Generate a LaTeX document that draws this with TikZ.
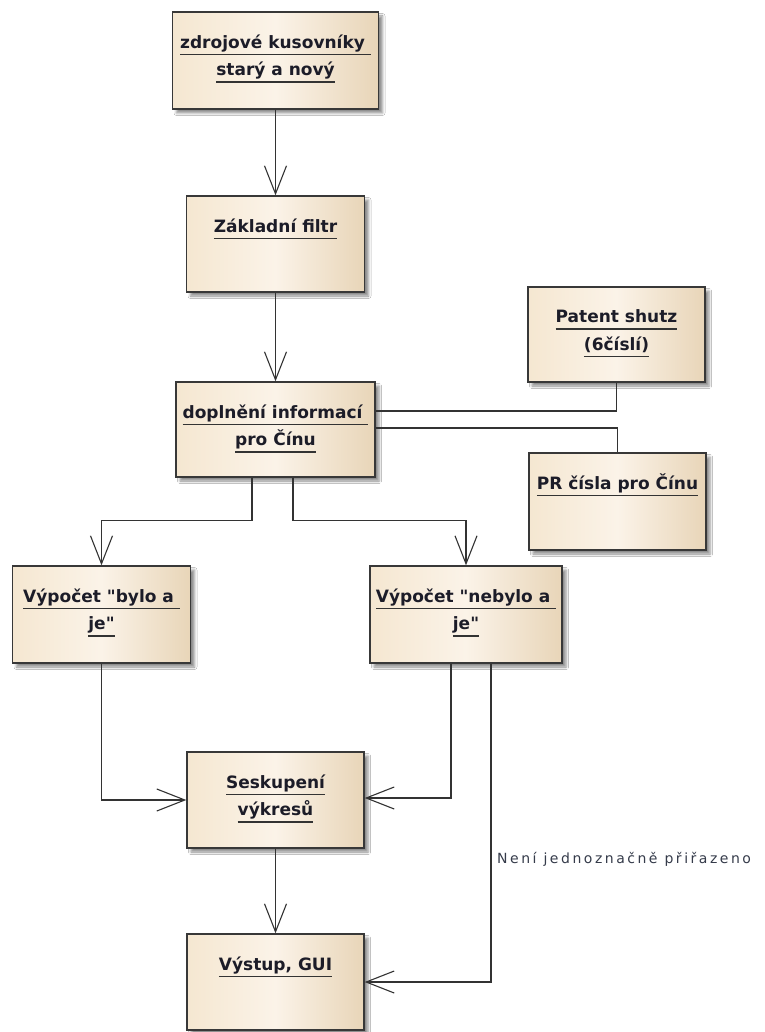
\documentclass[tikz,border=0pt]{standalone}
\usepackage{fontspec}
\setmainfont{DejaVu Sans}[Ligatures=TeXOff]
\newfontfamily\lblfont{DejaVu Sans}[LetterSpace=18]
\usetikzlibrary{arrows.meta,shadows.blur}
\definecolor{bleft}{HTML}{F5E7D1}
\definecolor{bmid}{HTML}{FBF3E8}
\definecolor{bright}{HTML}{E8D5B8}
\definecolor{txtc}{HTML}{1C1C28}
\definecolor{ulc}{HTML}{333333}
\definecolor{lblc}{HTML}{353B4A}
\newcommand\ulx[1]{\setbox0\hbox{#1}\leavevmode\rlap{\textcolor{ulc}{\rule[-7pt]{\wd0}{1.7pt}}}\box0}
\newcommand\qq{\symbol{34}}
\begin{document}
\begin{tikzpicture}[x=1pt,y=-1pt,
  box/.style={draw=black!78, line width=1.4pt, left color=bleft, right color=bright, middle color=bmid,
    blur shadow={shadow xshift=4pt,shadow yshift=-4pt,shadow blur radius=2.5pt,shadow opacity=45},
    inner sep=0pt},
  txt/.style={font=\bfseries\fontsize{17}{20}\selectfont, text=txtc, inner sep=0pt, anchor=base},
  lbl/.style={font=\lblfont\fontsize{14}{16}\selectfont, text=lblc, inner sep=0pt},
  conn/.style={draw=black!80, line width=1.1pt},
  arr/.style={conn, -{Straight Barb[length=28pt,width=22pt]}}
]
\fill[white] (0,0) rectangle (764,1032);
\useasboundingbox (0,0) rectangle (764,1032);

% boxes
\node[box, minimum width=206pt, minimum height=97pt] (b1) at (275.5,60.5) {};
\node[box, minimum width=178pt, minimum height=96pt] (b2) at (275.5,244) {};
\node[box, minimum width=199pt, minimum height=95pt] (b3) at (275.5,429.5) {};
\node[box, minimum width=177pt, minimum height=95pt] (pat) at (616.5,334.5) {};
\node[box, minimum width=177pt, minimum height=97pt] (pr) at (617.5,501.5) {};
\node[box, minimum width=178pt, minimum height=97pt] (bylo) at (101.5,614.5) {};
\node[box, minimum width=192pt, minimum height=97pt] (nebylo) at (466,614.5) {};
\node[box, minimum width=177pt, minimum height=96pt] (sesk) at (275.5,800) {};
\node[box, minimum width=177pt, minimum height=96pt] (vys) at (275.5,982) {};

% texts
\node[txt] (b1a) at ([yshift=-37pt]b1.north) {\ulx{zdrojové kusovníky\ }};
\node[txt] (b1b) at ([yshift=-64.5pt]b1.north) {\ulx{starý a nový}};
\node[txt] (b2a) at ([yshift=-37pt]b2.north) {\ulx{Základní filtr}};
\node[txt] (b3a) at ([yshift=-37pt]b3.north) {\ulx{doplnění informací\ }};
\node[txt] (b3b) at ([yshift=-64.5pt]b3.north) {\ulx{pro Čínu}};
\node[txt] (pata) at ([yshift=-36.5pt]pat.north) {\ulx{Patent shutz}};
\node[txt] (patb) at ([yshift=-64pt]pat.north) {\ulx{(6číslí)}};
\node[txt] (pra) at ([yshift=-37pt]pr.north) {\ulx{PR čísla pro Čínu}};
\node[txt] (byloa) at ([yshift=-37pt]bylo.north) {\ulx{Výpočet \qq bylo a\ }};
\node[txt] (bylob) at ([yshift=-64.5pt]bylo.north) {\ulx{je\qq}};
\node[txt] (nebyloa) at ([yshift=-37pt]nebylo.north) {\ulx{Výpočet \qq nebylo a\ }};
\node[txt] (nebylob) at ([yshift=-64.5pt]nebylo.north) {\ulx{je\qq}};
\node[txt] (seska) at ([yshift=-37pt]sesk.north) {\ulx{Seskupení}};
\node[txt] (seskb) at ([yshift=-64.5pt]sesk.north) {\ulx{výkresů}};
\node[txt] (vysa) at ([yshift=-37pt]vys.north) {\ulx{Výstup, GUI}};

% connectors
\draw[arr] (b1.south) -- (b2.north);
\draw[arr] (b2.south) -- (b3.north);
\draw[conn] ([yshift=18.5pt]b3.east) -| (pat.south);
\draw[conn] ([yshift=1.5pt]b3.east) -| (pr.north);
\draw[arr] ([xshift=-23.5pt]b3.south) -- ++(0,43) -| (bylo.north);
\draw[arr] ([xshift=17.5pt]b3.south) -- ++(0,43) -| (nebylo.north);
\draw[arr] (bylo.south) |- (sesk.west);
\draw[arr] ([xshift=-15pt]nebylo.south) |- ([yshift=2pt]sesk.east);
\draw[arr] ([xshift=25pt]nebylo.south) |- (vys.east);
\draw[arr] (sesk.south) -- (vys.north);

\node[lbl, anchor=base west] (lab) at (497,863) {Není jednoznačně přiřazeno};
\end{tikzpicture}
\end{document}
